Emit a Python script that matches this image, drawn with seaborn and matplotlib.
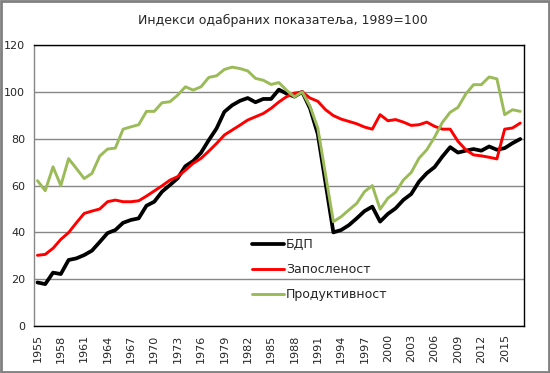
import matplotlib
matplotlib.use("Agg")
import matplotlib.pyplot as plt
import seaborn as sns
import numpy as np

# Indices, 1989 = 100
years = list(range(1955, 2018))

gdp = [18.6, 17.9, 22.8, 22.2, 28.2, 28.9, 30.3, 32.2, 35.9, 39.7,
       41.0, 44.1, 45.3, 46.0, 51.4, 53.1, 57.4, 60.2, 63.1, 68.3,
       70.5, 74.0, 79.4, 84.4, 91.5, 94.3, 96.2, 97.4, 95.6, 97.0,
       97.0, 101.0, 99.3, 98.0, 100.0, 93.0, 82.0, 61.0, 40.0, 41.0,
       43.1, 46.0, 49.1, 51.0, 44.6, 47.9, 50.3, 53.9, 56.4, 61.7,
       65.3, 67.9, 72.4, 76.4, 74.1, 74.9, 75.6, 74.9, 76.7, 75.3,
       76.0, 78.1, 79.9]

employment = [30.2, 30.6, 33.2, 37.0, 39.9, 44.1, 48.1, 49.1, 50.0, 53.1,
              53.8, 53.1, 53.1, 53.5, 55.5, 57.7, 59.9, 62.3, 63.8, 66.6,
              69.5, 71.6, 74.7, 78.0, 81.6, 83.7, 85.8, 88.0, 89.4, 90.8,
              93.0, 95.7, 98.0, 99.5, 100.0, 97.4, 96.0, 92.4, 89.9, 88.4,
              87.4, 86.4, 85.0, 84.1, 90.3, 87.7, 88.2, 87.1, 85.7, 86.0,
              87.1, 85.3, 84.1, 84.1, 78.9, 75.3, 73.1, 72.7, 72.1, 71.4,
              84.1, 84.6, 86.7]

productivity = [62.1, 57.8, 68.0, 60.0, 71.5, 67.3, 63.0, 65.2, 72.6, 75.6,
                76.0, 84.1, 85.1, 86.0, 91.7, 91.7, 95.4, 95.8, 98.6, 102.2,
                100.8, 102.2, 106.2, 106.9, 109.6, 110.6, 110.0, 109.0, 105.8, 105.0,
                103.2, 104.0, 100.7, 97.9, 100.0, 93.9, 84.6, 64.6, 44.6, 46.7,
                49.6, 52.4, 57.4, 60.0, 49.9, 54.6, 57.2, 62.4, 65.6, 71.7,
                75.3, 80.7, 87.0, 91.3, 93.4, 99.1, 103.1, 103.1, 106.4, 105.6,
                90.3, 92.4, 91.7]

labels = ['БДП', 'Запосленост', 'Продуктивност']

sns.set_style("white")
plt.rcParams['font.family'] = ['DejaVu Sans']

fig = plt.figure(figsize=(5.5, 3.73), dpi=100)
ax = fig.add_axes([0.061, 0.126, 0.892, 0.753])

sns.lineplot(x=years, y=gdp, ax=ax, color='black', linewidth=2.7,
             solid_joinstyle='round', label=labels[0])
sns.lineplot(x=years, y=employment, ax=ax, color='#FF0000', linewidth=2.1,
             solid_joinstyle='round', label=labels[1])
sns.lineplot(x=years, y=productivity, ax=ax, color='#9BBB59', linewidth=2.1,
             solid_joinstyle='round', label=labels[2])

ax.set_xlim(years[0] - 0.5, years[-1] + 0.5)
ax.set_ylim(0, 120)
ax.set_yticks(range(0, 121, 20))
ax.yaxis.grid(True, color='#868686', linewidth=1)
ax.xaxis.grid(False)
ax.tick_params(axis='y', length=0, labelsize=8, pad=6)

# category labels every 3 years, tick marks between categories
ax.set_xticks(years[::3])
ax.set_xticklabels([str(y) for y in years[::3]], rotation=90, fontsize=8)
ax.set_xticks(np.arange(years[0] - 0.5, years[-1] + 1), minor=True)
ax.tick_params(axis='x', which='major', length=0, pad=6)
ax.tick_params(axis='x', which='minor', length=4, width=1, color='#404040', direction='out')

for side in ['top', 'right', 'bottom']:
    ax.spines[side].set_color('black')
    ax.spines[side].set_linewidth(1)
ax.spines['left'].set_color('#868686')
ax.spines['left'].set_linewidth(1)

ax.set_xlabel('')
ax.set_ylabel('')

ax.legend(frameon=False, loc='upper left', bbox_to_anchor=(0.435, 0.33),
          handlelength=2.6, handletextpad=0.1, labelspacing=0.95, fontsize=9,
          borderaxespad=0)

fig.text(0.515, 0.945, 'Индекси одабраних показатеља, 1989=100',
         ha='center', va='center', fontsize=9)

# chart area border
fig.patches.append(plt.Rectangle((0.002, 0.003), 0.996, 0.994, transform=fig.transFigure,
                                 fill=False, edgecolor='#808080', linewidth=2))

fig.savefig('out.png', dpi=100)
